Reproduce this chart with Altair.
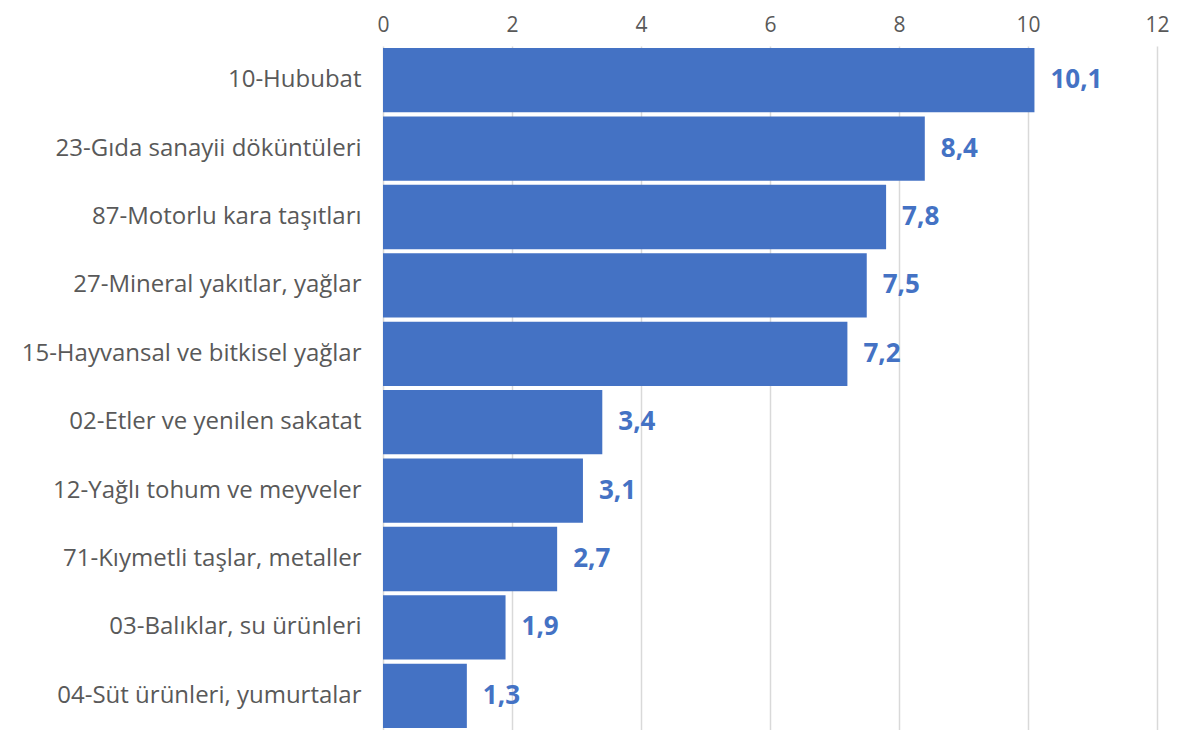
import altair as alt
import pandas as pd

categories = [
    "10-Hububat",
    "23-Gıda sanayii döküntüleri",
    "87-Motorlu kara taşıtları",
    "27-Mineral yakıtlar, yağlar",
    "15-Hayvansal ve bitkisel yağlar",
    "02-Etler ve yenilen sakatat",
    "12-Yağlı tohum ve meyveler",
    "71-Kıymetli taşlar, metaller",
    "03-Balıklar, su ürünleri",
    "04-Süt ürünleri, yumurtalar",
]
values = [10.1, 8.4, 7.8, 7.5, 7.2, 3.4, 3.1, 2.7, 1.9, 1.3]
x_ticks = [0, 2, 4, 6, 8, 10, 12]

df = pd.DataFrame({"cat": categories, "val": values})

FONT = "Open Sans"
BLUE = "#4472C4"

base = alt.Chart(df).encode(
    y=alt.Y("cat:N", sort=categories,
            scale=alt.Scale(paddingInner=0.06, paddingOuter=0.03),
            axis=alt.Axis(title=None, domain=False, ticks=False, grid=False,
                          labelFont=FONT, labelFontSize=24, labelColor="#595959",
                          labelPadding=22, labelLimit=420)),
)

bars = base.mark_bar(color=BLUE).encode(
    x=alt.X("val:Q", scale=alt.Scale(domain=[0, 12], nice=False),
            axis=alt.Axis(title=None, orient="top", values=x_ticks, format="d",
                          domain=False, ticks=False, grid=True, labelFlush=False,
                          gridColor="#D9D9D9", gridWidth=1.5,
                          labelFont=FONT, labelFontSize=21, labelColor="#595959",
                          labelPadding=11)),
)

labels = base.mark_text(align="left", baseline="middle", dx=16, font=FONT,
                        fontSize=26, fontWeight="bold", color=BLUE).encode(
    x="val:Q",
    text="lbl:N",
).transform_calculate(lbl="replace(format(datum.val, '.1f'), '.', ',')")

chart = (bars + labels).properties(
    width=774, height=684,
    autosize=alt.AutoSizeParams(type="none"),
    padding={"left": 375, "top": 38, "right": 13, "bottom": 0},
).configure_view(stroke=None)

chart.save("out.html", embed_options={"renderer": "svg", "actions": False})
